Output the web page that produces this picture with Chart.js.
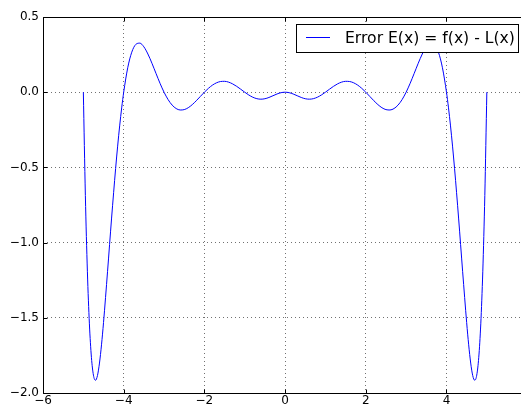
<!DOCTYPE html>
<html>
<head>
<meta charset="utf-8">
<script src="https://cdn.jsdelivr.net/npm/chart.js@4"></script>
<style>
  html, body { margin: 0; padding: 0; background: #fff; overflow: hidden; }
  #wrap { width: 521px; height: 406px; overflow: hidden; position: relative; }
</style>
</head>
<body>
<div id="wrap"><canvas id="errChart" width="532" height="406"></canvas></div>
<script>
const xValues = [
    -5, -4.95, -4.9, -4.85, -4.8, -4.75, -4.7, -4.65, -4.6, -4.55, -4.5, -4.4, -4.3, -4.2, -4.15, -4.1, -4.05,
    -4, -3.9, -3.8, -3.7, -3.6, -3.5, -3.4, -3.3, -3.2, -3.1,
    -3, -2.9, -2.8, -2.7, -2.6, -2.5, -2.4, -2.3, -2.2, -2.1,
    -2, -1.9, -1.8, -1.7, -1.6, -1.5, -1.4, -1.3, -1.2, -1.1,
    -1, -0.9, -0.8, -0.7, -0.6, -0.5, -0.4, -0.3, -0.2, -0.1,
    0, 0.1, 0.2, 0.3, 0.4, 0.5, 0.6, 0.7, 0.8, 0.9,
    1, 1.1, 1.2, 1.3, 1.4, 1.5, 1.6, 1.7, 1.8, 1.9,
    2, 2.1, 2.2, 2.3, 2.4, 2.5, 2.6, 2.7, 2.8, 2.9,
    3, 3.1, 3.2, 3.3, 3.4, 3.5, 3.6, 3.7, 3.8, 3.9,
    4, 4.05, 4.1, 4.15, 4.2, 4.3, 4.4, 4.5, 4.55, 4.6, 4.65, 4.7, 4.75, 4.8, 4.85, 4.9, 4.95, 5
]
const errValues = [
    0, -0.68685, -1.19034, -1.54022, -1.76277, -1.88118, -1.91564, -1.88376, -1.80074, -1.67963, -1.53165, -1.19110, -0.83678, -0.50680, -0.35859, -0.22407, -0.10435,
    0, 0.16242, 0.26606, 0.31768, 0.32623, 0.30167, 0.25395, 0.19242, 0.12529, 0.05938,
    0, -0.04909, -0.08560, -0.10860, -0.11829, -0.11583, -0.10309, -0.08247, -0.05661, -0.02824,
    0, 0.02576, 0.04707, 0.06245, 0.07098, 0.07235, 0.06681, 0.05524, 0.03900, 0.01989,
    0, -0.01847, -0.03341, -0.04309, -0.04645, -0.04341, -0.03501, -0.02347, -0.01181, -0.00318,
    0, -0.00318, -0.01181, -0.02347, -0.03501, -0.04341, -0.04645, -0.04309, -0.03341, -0.01847,
    0, 0.01989, 0.03900, 0.05524, 0.06681, 0.07235, 0.07098, 0.06245, 0.04707, 0.02576,
    0, -0.02824, -0.05661, -0.08247, -0.10309, -0.11583, -0.11829, -0.10860, -0.08560, -0.04909,
    0, 0.05938, 0.12529, 0.19242, 0.25395, 0.30167, 0.32623, 0.31768, 0.26606, 0.16242,
    0, -0.10435, -0.22407, -0.35859, -0.50680, -0.83678, -1.19110, -1.53165, -1.67963, -1.80074, -1.88376, -1.91564, -1.88118, -1.76277, -1.54022, -1.19034, -0.68685, 0
]
const xTicks = [-6, -4, -2, 0, 2, 4, 6]
const yTicks = [0.5, 0.0, -0.5, -1.0, -1.5, -2.0]
const seriesLabel = 'Error E(x) = f(x) - L(x)'

const tickFont = { family: 'DejaVu Sans', size: 12 }

function fmtX(v) {
    return (v < 0 ? '\u2212' : '') + Math.abs(v)
}
function fmtY(v) {
    return (v < 0 ? '\u2212' : '') + Math.abs(v).toFixed(1)
}

// frame, inward tick marks and legend box like matplotlib
const framePlugin = {
    id: 'frame',
    afterDraw(chart) {
        const ctx = chart.ctx
        const a = chart.chartArea
        const xs = chart.scales.x, ys = chart.scales.y
        const L = Math.round(a.left) + 0.5, T = Math.round(a.top) + 0.5
        const B = Math.round(a.bottom) + 0.5, R = Math.round(a.right) + 0.5
        ctx.save()
        ctx.strokeStyle = '#000'
        ctx.lineWidth = 1
        ctx.beginPath()
        ctx.moveTo(R, T); ctx.lineTo(L, T); ctx.lineTo(L, B); ctx.lineTo(R, B)
        ctx.stroke()
        ctx.beginPath()
        xTicks.forEach(t => {
            const px = Math.round(xs.getPixelForValue(t)) + 0.5
            ctx.moveTo(px, B); ctx.lineTo(px, B - 4)
            ctx.moveTo(px, T); ctx.lineTo(px, T + 4)
        })
        yTicks.forEach(t => {
            const py = Math.round(ys.getPixelForValue(t)) + 0.5
            ctx.moveTo(L, py); ctx.lineTo(L + 4, py)
        })
        ctx.stroke()

        // legend
        const bx = 296, by = 24, bw = 222, bh = 28
        ctx.fillStyle = '#fff'
        ctx.fillRect(bx, by, bw, bh)
        ctx.strokeRect(bx + 0.5, by + 0.5, bw, bh)
        ctx.strokeStyle = '#0000ff'
        ctx.beginPath()
        ctx.moveTo(306, 37.5); ctx.lineTo(330, 37.5)
        ctx.stroke()
        ctx.fillStyle = '#000'
        ctx.font = '14px "DejaVu Sans"'
        const size = 14 * 170 / ctx.measureText(seriesLabel).width
        ctx.font = size.toFixed(2) + 'px "DejaVu Sans"'
        ctx.textBaseline = 'middle'
        ctx.fillText(seriesLabel, 345, 38.5)
        ctx.restore()
    }
}

const data = {
    datasets: [{
        label: seriesLabel,
        data: xValues.map((x, i) => ({ x: x, y: errValues[i] })),
        borderColor: '#0000ff',
        borderWidth: 1,
        pointRadius: 0,
        fill: false,
        cubicInterpolationMode: 'monotone'
    }]
}

const config = {
    type: 'line',
    data: data,
    options: {
        responsive: false,
        animation: false,
        layout: { padding: { top: 17, right: 3, left: 0, bottom: 0 } },
        plugins: {
            legend: { display: false },
            tooltip: { enabled: false }
        },
        scales: {
            x: {
                type: 'linear',
                min: -6,
                max: 6,
                afterBuildTicks: s => { s.ticks = xTicks.map(v => ({ value: v })) },
                afterFit: s => { s.height = 13 },
                ticks: { font: tickFont, color: '#000', padding: 1, maxRotation: 0, callback: v => fmtX(v) },
                grid: { color: 'rgba(0,0,0,0.7)', lineWidth: 0.8, drawTicks: false },
                border: { display: false, dash: [1, 3] }
            },
            y: {
                min: -2,
                max: 0.5,
                afterBuildTicks: s => { s.ticks = yTicks.map(v => ({ value: v })) },
                afterFit: s => { s.width = 43 },
                ticks: { font: tickFont, color: '#000', padding: 4, callback: v => fmtY(v) },
                grid: { color: 'rgba(0,0,0,0.7)', lineWidth: 0.8, drawTicks: false },
                border: { display: false, dash: [1, 3] }
            }
        }
    },
    plugins: [framePlugin]
}

const myChart = new Chart(
    document.getElementById('errChart'),
    config
)
</script>
</body>
</html>
